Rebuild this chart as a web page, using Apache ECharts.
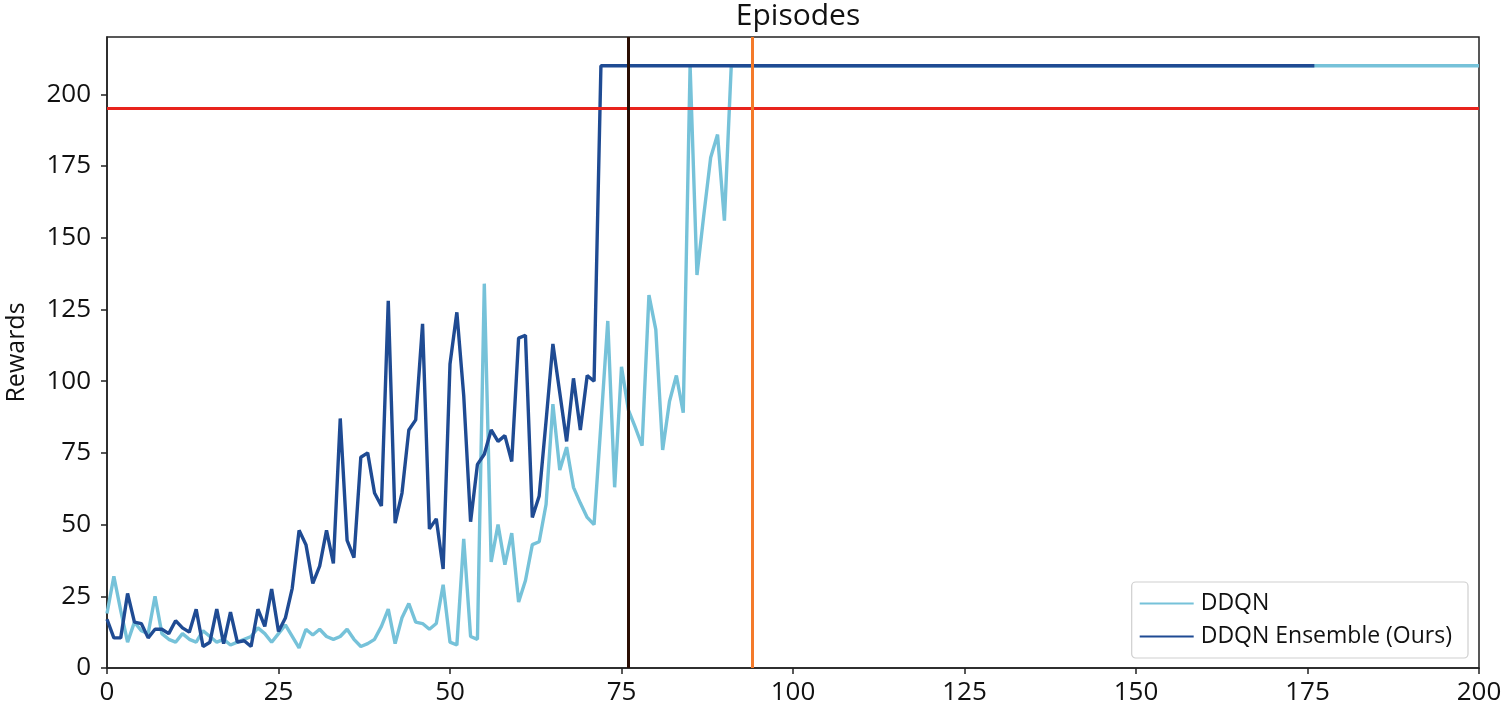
<!DOCTYPE html>
<html>
<head>
<meta charset="utf-8">
<script src="https://cdn.jsdelivr.net/npm/echarts@6/dist/echarts.min.js"></script>
<style>
html,body{margin:0;padding:0;background:#fff;}
#chart{width:1505px;height:708px;}
</style>
</head>
<body>
<div id="chart"></div>
<script>
// ---- data ----
const xTicks = [0, 25, 50, 75, 100, 125, 150, 175, 200];
const yTicks = [0, 25, 50, 75, 100, 125, 150, 175, 200];
const seriesNames = ['DDQN', 'DDQN Ensemble (Ours)'];

// DDQN rewards, episodes 0..91 (index = episode)
const ddqnRewards = [
  19, 32, 20, 9, 16, 13, 12, 25, 12, 10,
  9, 12, 10, 9, 13, 11, 9, 10, 8, 9,
  10, 11, 14, 12, 9, 12, 15, 11, 7, 13.5,
  11.5, 13.5, 11, 10, 11, 13.5, 10, 7.5, 8.5, 10,
  14.5, 20.5, 8.5, 17.5, 22.5, 16, 15.5, 13.5, 15.5, 29,
  9, 8, 45, 11, 10, 134, 37, 50, 36, 47,
  23, 30.5, 43, 44, 57, 92, 69, 77, 63, 57.5,
  52.5, 50, 85, 121, 63, 105, 90, 84, 77.5, 130,
  118, 76, 93, 102, 89, 210, 137, 158, 178, 186,
  156, 210
];
const ddqnEndPoint = [200, 210];

// DDQN Ensemble rewards, episodes 0..72 (index = episode)
const ensembleRewards = [
  17, 10.5, 10.5, 26, 16, 15.5, 10.5, 13.5, 13.5, 12,
  16.5, 14, 12.5, 20.5, 7.5, 9, 20.5, 8.5, 19.5, 9,
  9.5, 7.5, 20.5, 14.5, 27.5, 12.7, 17.4, 27.8, 48, 43,
  29.5, 35.5, 48, 36.5, 87, 44.5, 38.5, 73.5, 75, 61,
  56.5, 128, 50.5, 61, 83, 86.5, 120, 48.5, 52, 34.5,
  106, 124, 95, 51, 71, 74.5, 83, 79, 81, 72,
  115, 116, 52.5, 60, 86, 113, 96, 79, 101, 83,
  102, 100, 210
];
const ensembleEndPoint = [176, 210];

const solvedThreshold = 195;
const ensembleSolvedEpisode = 76;
const ddqnSolvedEpisode = 94;

// ---- build ----
const toPairs = (arr, end) => arr.map((v, i) => [i, v]).concat([end]);
const font = '"Open Sans", "DejaVu Sans", sans-serif';

const chart = echarts.init(document.getElementById('chart'), null, {renderer: 'canvas'});
chart.setOption({
  animation: false,
  backgroundColor: '#fff',
  title: {
    text: 'Episodes',
    left: 793, top: -4, textAlign: 'center',
    textStyle: {fontFamily: font, fontSize: 30, fontWeight: 'normal', color: '#111'}
  },
  grid: {
    left: 107, right: 26, top: 37, bottom: 40,
    containLabel: false, outerBoundsMode: 'none',
    show: true, borderColor: '#222', borderWidth: 1.5, backgroundColor: 'transparent'
  },
  legend: {
    data: seriesNames,
    orient: 'vertical',
    right: 37, bottom: 50,
    backgroundColor: '#fff',
    borderColor: '#cfcfcf', borderWidth: 1.2, borderRadius: 4,
    padding: [10, 16, 10, 8],
    itemGap: 10,
    itemWidth: 54, itemHeight: 20,
    icon: 'path://M0,9 L54,9 L54,11 L0,11 Z',
    textStyle: {fontFamily: font, fontSize: 23, color: '#111', padding: [0, 0, 0, 2]}
  },
  xAxis: {
    type: 'value', min: 0, max: 200, interval: 25,
    axisLine: {show: true, lineStyle: {color: '#222', width: 1.5}},
    axisTick: {show: true, length: 6, lineStyle: {color: '#222', width: 1.5}},
    axisLabel: {
      margin: 12, fontFamily: font, fontSize: 26, color: '#111',
      customValues: xTicks
    },
    splitLine: {show: false}
  },
  yAxis: {
    type: 'value', min: 0, max: 220, interval: 25,
    name: 'Rewards', nameLocation: 'middle', nameGap: 78, nameRotate: 90,
    nameTextStyle: {fontFamily: font, fontSize: 25, color: '#111'},
    axisLine: {show: true, lineStyle: {color: '#222', width: 1.5}},
    axisTick: {show: true, length: 6, lineStyle: {color: '#222', width: 1.5}, customValues: yTicks},
    axisLabel: {margin: 16, fontFamily: font, fontSize: 26, color: '#111', customValues: yTicks},
    splitLine: {show: false}
  },
  series: [
    {
      name: seriesNames[0], type: 'line', data: toPairs(ddqnRewards, ddqnEndPoint),
      symbol: 'none', z: 2,
      lineStyle: {color: '#76c2d9', width: 3.4}, itemStyle: {color: '#76c2d9'}
    },
    {
      name: seriesNames[1], type: 'line', data: toPairs(ensembleRewards, ensembleEndPoint),
      symbol: 'none', z: 3,
      lineStyle: {color: '#1f4b93', width: 3.4}, itemStyle: {color: '#1f4b93'}
    },
    {
      name: 'markers', type: 'line', data: [], z: 5, silent: true,
      markLine: {
        symbol: 'none', silent: true, animation: false,
        label: {show: false},
        data: [
          {yAxis: solvedThreshold, lineStyle: {color: '#e8231d', width: 3, type: 'solid'}},
          {xAxis: ensembleSolvedEpisode, lineStyle: {color: '#2a0e04', width: 3, type: 'solid'}},
          {xAxis: ddqnSolvedEpisode, lineStyle: {color: '#f47a2a', width: 3, type: 'solid'}}
        ]
      }
    }
  ]
});
</script>
</body>
</html>
